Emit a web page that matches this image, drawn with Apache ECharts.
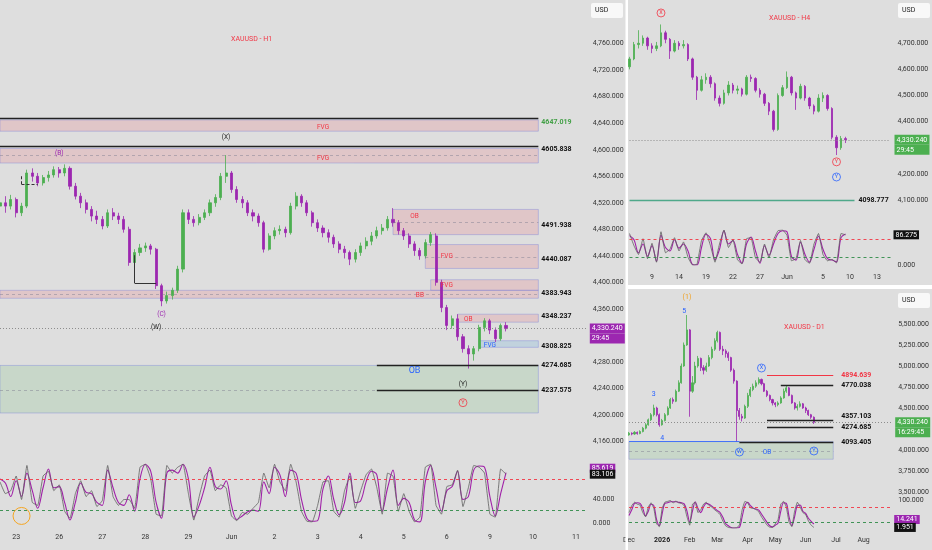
<!DOCTYPE html>
<html><head><meta charset="utf-8">
<script src="https://cdn.jsdelivr.net/npm/echarts@6/dist/echarts.min.js"></script>
<style>html,body{margin:0;padding:0;background:#dedede;}#c{width:932px;height:550px;}</style>
</head><body><div id="c"></div>
<script>
// ---------------- DATA ----------------
const lastPrice = 4330.24;
const h1Countdown = '29:45', h4Countdown = '29:45', d1Countdown = '16:29:45';

// H1 candles [open, close, low, high]
const h1Candles = [
[4515,4520,4508,4528],[4520,4515,4505,4530],[4515,4525,4510,4532],[4525,4505,4498,4528],[4505,4515,4500,4520],
[4515,4565,4512,4570],[4565,4560,4552,4572],[4560,4550,4545,4565],[4550,4558,4546,4562],[4558,4562,4552,4568],
[4562,4570,4558,4575],[4570,4565,4558,4574],[4565,4572,4560,4578],[4572,4545,4540,4575],[4545,4530,4525,4550],
[4530,4520,4512,4535],[4520,4510,4504,4525],[4510,4500,4492,4515],[4500,4495,4488,4508],[4495,4485,4480,4500],
[4485,4505,4482,4510],[4505,4500,4494,4512],[4500,4495,4488,4505],[4495,4480,4475,4500],[4480,4430,4425,4484],
[4430,4445,4426,4450],[4445,4452,4440,4458],[4452,4455,4446,4460],[4455,4450,4442,4458],[4450,4395,4390,4452],
[4395,4372,4364,4398],[4372,4380,4368,4386],[4380,4388,4374,4392],[4388,4420,4384,4425],[4420,4505,4415,4510],
[4505,4495,4488,4510],[4495,4490,4484,4500],[4490,4498,4486,4503],[4498,4505,4494,4510],[4505,4520,4500,4525],
[4520,4528,4514,4533],[4528,4560,4524,4565],[4560,4565,4550,4592],[4565,4540,4535,4568],[4540,4525,4520,4545],
[4525,4520,4512,4530],[4520,4505,4500,4524],[4505,4500,4492,4510],[4500,4490,4484,4504],[4490,4450,4445,4493],
[4450,4470,4448,4474],[4470,4478,4465,4483],[4478,4480,4472,4486],[4480,4475,4468,4484],[4475,4515,4472,4520],
[4515,4530,4510,4536],[4530,4520,4514,4533],[4520,4505,4500,4524],[4505,4490,4484,4508],[4490,4482,4476,4495],
[4482,4475,4468,4486],[4475,4468,4460,4480],[4468,4458,4452,4472],[4458,4450,4444,4462],[4450,4445,4436,4455],
[4445,4435,4426,4448],[4435,4445,4430,4450],[4445,4455,4440,4460],[4455,4462,4450,4468],[4462,4470,4456,4476],
[4470,4478,4466,4484],[4478,4482,4472,4488],[4482,4495,4478,4500],[4495,4490,4484,4512],[4490,4478,4472,4494],
[4478,4470,4464,4482],[4470,4458,4452,4474],[4458,4448,4440,4462],[4448,4440,4434,4452],[4440,4460,4436,4465],
[4460,4472,4455,4476],[4470,4400,4395,4474],[4400,4362,4355,4404],[4362,4335,4328,4366],[4335,4345,4330,4350],
[4345,4318,4312,4352],[4318,4300,4294,4322],[4300,4292,4270,4305],[4292,4300,4282,4304],[4300,4332,4296,4336],
[4332,4342,4326,4346],[4342,4328,4322,4345],[4328,4315,4310,4332],[4315,4335,4312,4338],[4335,4330.24,4326,4340]
];
const h1OscD = [75,68,45,72,45,85,55,25,60,92,60,62,35,5,35,68,52,50,35,30,90,60,35,30,48,20,75,100,88,35,8,85,90,85,100,75,10,30,60,95,62,58,72,30,6,12,19,22,20,70,50,95,82,45,90,85,40,8,3,4,58,80,40,14,35,85,35,38,70,88,82,20,60,90,30,42,35,5,2,70,98,60,20,55,62,88,40,45,90,97,95,45,12,50,85.619];
const h1OscK = [70,50,55,80,40,98,35,30,80,88,55,65,20,8,50,72,45,55,28,38,98,45,30,40,40,25,95,100,75,15,12,98,85,95,100,50,5,45,80,90,55,65,60,12,4,18,15,25,35,85,60,100,70,55,100,70,20,3,2,30,70,72,20,10,55,80,25,55,82,92,60,15,85,80,20,50,20,2,10,95,100,30,15,62,65,90,28,60,98,95,85,15,10,92,83.106];

// H4 candles
const h4Candles = [
[4610,4640,4600,4648],[4640,4695,4635,4705],[4695,4700,4680,4750],[4700,4720,4690,4730],[4720,4690,4675,4725],
[4690,4680,4662,4700],[4680,4690,4670,4705],[4690,4740,4685,4772],[4740,4715,4700,4748],[4715,4670,4640,4720],
[4670,4700,4665,4712],[4700,4690,4675,4708],[4690,4695,4680,4712],[4695,4640,4632,4700],[4640,4570,4560,4645],
[4570,4520,4483,4575],[4520,4560,4515,4575],[4560,4570,4545,4585],[4570,4545,4530,4578],[4545,4490,4480,4550],
[4490,4470,4458,4500],[4470,4510,4465,4522],[4510,4540,4500,4555],[4540,4520,4508,4548],[4520,4525,4505,4538],
[4525,4505,4496,4530],[4505,4570,4500,4578],[4570,4565,4552,4580],[4565,4520,4512,4570],[4520,4505,4492,4528],
[4505,4470,4460,4510],[4470,4440,4425,4475],[4440,4370,4362,4445],[4370,4500,4365,4508],[4500,4530,4495,4540],
[4530,4570,4525,4592],[4570,4510,4500,4575],[4510,4490,4445,4515],[4490,4535,4485,4545],[4535,4490,4480,4540],
[4490,4460,4448,4495],[4460,4440,4428,4466],[4440,4490,4435,4505],[4490,4500,4475,4512],[4500,4450,4442,4505],
[4450,4340,4332,4455],[4340,4300,4272,4348],[4300,4335,4292,4345],[4335,4330.24,4318,4342]
];
const h4OscD = [84,72,35,60,25,55,10,85,50,40,72,48,60,40,2,0,50,88,75,15,45,98,60,70,30,5,60,80,40,5,55,28,60,90,98,95,24,14,65,30,8,45,82,45,18,14,9,78,88.4];
const h4OscK = [90,55,30,75,18,62,8,95,35,45,78,40,66,22,0,2,70,92,55,8,60,100,50,72,15,3,75,78,20,8,60,20,72,98,100,85,12,18,70,15,5,60,90,30,12,16,6,90,86.275];

// D1 candles (two sessions per bar)
const d1Candles = [
[4180,4200,4170,4215],[4200,4190,4175,4210],[4190,4210,4180,4225],[4210,4195,4182,4220],[4195,4220,4188,4235],
[4220,4260,4210,4275],[4260,4300,4245,4320],[4300,4360,4290,4375],[4360,4420,4345,4440],[4420,4500,4400,4540],
[4500,4420,4400,4515],[4420,4300,4277,4435],[4300,4350,4290,4370],[4350,4420,4340,4440],[4420,4500,4410,4520],
[4500,4600,4490,4620],[4600,4580,4550,4625],[4580,4700,4570,4720],[4700,4800,4690,4830],[4800,5000,4790,5030],
[5000,5250,4990,5280],[5250,5430,5240,5607],[5430,4700,4396,5440],[4700,4800,4680,4880],[4800,5000,4780,5050],
[5000,5090,4980,5120],[5090,4980,4940,5100],[4980,4950,4900,5010],[4950,5000,4930,5040],[5000,5100,4990,5130],
[5100,5200,5080,5230],[5200,5300,5180,5330],[5300,5400,5280,5420],[5400,5200,5180,5410],[5200,5180,5130,5240],
[5180,5150,5100,5200],[5150,5100,5060,5170],[5100,4950,4930,5110],[4950,4820,4790,4970],[4820,4470,4099,4830],
[4470,4400,4360,4500],[4400,4380,4340,4430],[4380,4520,4370,4540],[4520,4650,4500,4680],[4650,4720,4630,4750],
[4720,4760,4700,4790],[4760,4800,4740,4830],[4800,4840,4780,4865],[4840,4790,4770,4850],[4790,4700,4690,4800],
[4700,4650,4630,4715],[4650,4600,4580,4660],[4600,4560,4530,4610],[4560,4540,4510,4570],[4540,4560,4520,4580],
[4560,4620,4550,4640],[4620,4700,4610,4730],[4700,4740,4680,4765],[4740,4650,4640,4750],[4650,4560,4550,4660],
[4560,4500,4480,4570],[4500,4520,4470,4545],[4520,4550,4505,4580],[4550,4500,4490,4560],[4500,4470,4440,4515],
[4470,4420,4405,4480],[4420,4390,4370,4430],[4390,4330.24,4310,4400]
];
const d1OscD = [45,65,88,90,88,70,43,60,85,80,30,8,50,88,90,94,94,94,92,90,86,60,22,60,94,70,55,75,88,85,78,70,62,55,38,16,8,2,0,0,2,40,80,92,80,71,68,64,50,35,20,8,4,10,18,60,90,88,40,8,40,80,82,60,52,35,24,14.241];
const d1OscK = [55,80,92,85,82,55,40,75,90,70,15,5,70,92,95,98,90,96,90,88,80,40,10,85,92,55,65,85,92,80,75,65,58,48,25,8,2,0,0,1,10,65,95,90,72,70,66,58,40,25,10,3,2,15,30,85,95,75,20,5,60,92,75,55,48,25,10,1.951];

// Time-axis tick labels [slot, text]
const h1Ticks = [[3,'23'],[11,'26'],[19,'27'],[27,'28'],[35,'29'],[43,'Jun'],[51,'2'],[59,'3'],[67,'4'],[75,'5'],[83,'6'],[91,'9'],[99,'10'],[107,'11']];
const h4Ticks = [[5,'9'],[11,'14'],[17,'19'],[23,'22'],[29,'27'],[35,'Jun'],[43,'5'],[49,'10'],[55,'13']];
const d1Ticks = [[0,'Dec'],[12,'2026'],[22,'Feb'],[32,'Mar'],[43,'Apr'],[53,'May'],[64,'Jun'],[75,'Jul'],[85,'Aug']];
const slotCount = {h1: 110, h4: 59, d1: 96};

// Zones [fromSlot, toSlot, low, high, kind]
const h1Zones = [
[0,100,4628,4645,'bear'],[0,100,4580,4602,'bear'],[73,100,4472,4510,'bear'],[79,100,4421,4457,'bear'],
[80,100,4388,4404,'bear'],[0,100,4376,4388,'bear'],[85,100,4340,4352,'bear'],[89,100,4302,4312,'fvgBull'],
[0,100,4203,4274.685,'bull']
];
// Levels [fromSlot, toSlot, price, kind]
const h1Levels = [
[0,100,4647.019,'lineGreenText'],[0,100,4605.838,'line'],[73,100,4491.938,'text'],[79,100,4440.087,'text'],
[0,100,4383.943,'text'],[85,100,4348.237,'text'],[89,100,4308.825,'text'],[70,100,4274.685,'line'],[70,100,4237.575,'line']
];
const h1MidLines = [[0,100,4592],[73,100,4490],[79,100,4438],[0,100,4382],[0,100,4237.575]];
const h1Drawings = [[[25,4399],[29,4399],'solid'],[[25,4399],[25,4441],'solid'],[[4,4548],[7,4548],'dashed'],[[4,4548],[4,4562],'dashed']];
const h1Notes = [
[60,4634,'FVG','zoneRed'],[60,4587,'FVG','zoneRed'],[77,4499,'OB','zoneRed'],[83,4439,'FVG','zoneRed'],
[83,4395,'FVG','zoneRed'],[78,4380.5,'BB','zoneRed'],[87,4344,'OB','zoneRed'],[91,4305.5,'FVG','zoneBlue'],
[77,4266,'OB','obBlue'],[86,4246.7,'(Y)','waveK'],[86,4218.5,'Y','circR'],[42,4619,'(X)','waveK'],
[11,4594.7,'(B)','waveP'],[30,4351,'(C)','waveP'],[29,4332,'(W)','waveK']
];
const h1OscNotes = [[4,12,'','ringO']];

const h4Levels = [[0,50,4098.777,'lineTeal']];
const h4Notes = [[7,4816,'X','circR'],[46,4246,'Y','circR'],[46,4188,'Y','circB']];

const d1Zones = [[0,74,3890,4100,'bull']];
const d1Levels = [
[50,74,4894.639,'lineRed'],[55,74,4770.038,'line'],[50,74,4357.103,'line'],[50,74,4274.685,'line'],
[40,74,4093.405,'line'],[0,40,4107,'lineBlueOnly']
];
const d1MidLines = [[0,74,3990]];
const d1Notes = [
[21,5821,'(1)','waveO'],[20,5655,'5','waveB'],[9,4667,'3','waveB'],[12,4143,'4','waveB'],
[48,4976,'X','circB'],[40,3976,'W','circB'],[50,3976,'OB','zoneBlue'],[67,3988,'Y','circB']
];
const oscBands = [75, 22];

// ---------------- STYLE / BUILD ----------------
const FONT = 'Roboto, "DejaVu Sans", sans-serif';
const UP = '#4caf50', DOWN = '#9c27b0', RED = '#f23645', BLUE = '#2962ff';
const fmt3 = v => Number(v).toLocaleString('en-US', {minimumFractionDigits: 3, maximumFractionDigits: 3});

const zoneStyle = {
  bear: {color: 'rgba(242,54,69,0.14)', borderColor: 'rgba(110,120,220,0.35)', borderWidth: 1},
  bull: {color: 'rgba(76,175,80,0.15)', borderColor: 'rgba(110,120,220,0.35)', borderWidth: 1},
  fvgBull: {color: 'rgba(90,170,220,0.22)', borderColor: 'rgba(110,120,220,0.35)', borderWidth: 1}
};
const noteStyle = {
  zoneRed: {color: RED, fontSize: 6.5},
  zoneBlue: {color: BLUE, fontSize: 6.5},
  obBlue: {color: BLUE, fontSize: 9},
  waveK: {color: '#222', fontSize: 6.5},
  waveP: {color: '#9c27b0', fontSize: 6.5},
  waveB: {color: BLUE, fontSize: 7},
  waveO: {color: '#f0a020', fontSize: 7}
};
const levelLabelAlign = {4647.019: 'top', 4605.838: 'top', 4491.938: 'top', 4440.087: 'top', 4308.825: 'top',
  4357.103: 'bottom', 4274.685: 'middle'};

function cats(n) { return Array.from({length: n}, (_, i) => String(i)); }

function notePoints(notes) {
  return notes.map(([s, p, t, kind]) => {
    if (kind === 'circR' || kind === 'circB') {
      const c = kind === 'circR' ? RED : BLUE;
      return {coord: [s, p], symbol: 'circle', symbolSize: 8,
        itemStyle: {color: 'rgba(0,0,0,0)', borderColor: c, borderWidth: 0.8},
        label: {show: true, position: 'inside', formatter: t, color: c, fontSize: 5.5, fontFamily: FONT}};
    }
    if (kind === 'ringO') {
      return {coord: [s, p], symbol: 'circle', symbolSize: 17,
        itemStyle: {color: 'rgba(0,0,0,0)', borderColor: '#f5a623', borderWidth: 1}, label: {show: false}};
    }
    const st = noteStyle[kind];
    return {coord: [s, p], symbol: 'circle', symbolSize: 1, itemStyle: {color: 'rgba(0,0,0,0)'},
      label: {show: true, position: 'inside', formatter: t, color: st.color, fontSize: st.fontSize, fontFamily: FONT}};
  });
}

function levelLines(levels, dist) {
  return levels.map(([a, b, p, kind]) => {
    let lineColor = '#222', lw = 1.3, txtColor = '#111', showLabel = true;
    if (kind === 'text') lineColor = 'rgba(0,0,0,0)';
    if (kind === 'lineGreenText') txtColor = '#43a047';
    if (kind === 'lineTeal') { lineColor = '#4fa88a'; lw = 1.3; }
    if (kind === 'lineRed') { lineColor = RED; txtColor = RED; lw = 1; }
    if (kind === 'lineBlueOnly') { lineColor = BLUE; lw = 0.8; showLabel = false; }
    return [{coord: [a, p], lineStyle: {color: lineColor, width: lw, type: 'solid'},
      label: {show: showLabel, position: 'end', distance: dist, formatter: p.toFixed(3), color: txtColor,
        fontSize: 7, fontWeight: 'bold', fontFamily: FONT, verticalAlign: levelLabelAlign[p] || 'middle'}},
      {coord: [b, p]}];
  });
}

function midLines(mids) {
  return mids.map(([a, b, p]) => [{coord: [a, p], lineStyle: {color: 'rgba(120,120,140,0.55)', width: 0.8, type: [3, 3]}, label: {show: false}}, {coord: [b, p]}]);
}

function drawLines(dr) {
  return dr.map(([f, t, k]) => [{coord: f, lineStyle: {color: '#333', width: 1, type: k === 'dashed' ? [3, 2] : 'solid'}, label: {show: false}}, {coord: t}]);
}

function priceTag(color, countdown, dist) {
  return {yAxis: lastPrice, lineStyle: {color: '#8d8d8d', width: 1, type: [1, 2]},
    label: {show: true, position: 'end', distance: dist,
      formatter: '{s| }\n{a|' + fmt3(lastPrice) + '}\n{b|' + countdown + '}',
      rich: {
        s: {height: 10, lineHeight: 10, fontSize: 1},
        a: {backgroundColor: color, color: '#fff', width: 31, height: 10, lineHeight: 10, padding: [0, 2], fontSize: 7, fontFamily: FONT},
        b: {backgroundColor: color, color: '#fff', width: 31, height: 10, lineHeight: 10, padding: [0, 2], fontSize: 7, fontFamily: FONT}
      }}};
}

function areaData(zones) {
  return zones.map(([a, b, lo, hi, kind]) => [{xAxis: a, yAxis: hi, itemStyle: zoneStyle[kind]}, {xAxis: b, yAxis: lo}]);
}

function bandLines() {
  return [
    {yAxis: oscBands[0], lineStyle: {color: RED, width: 0.9, type: [3, 3]}, label: {show: false}},
    {yAxis: oscBands[1], lineStyle: {color: '#2e8b47', width: 0.9, type: [3, 3]}, label: {show: false}}
  ];
}
function valueTag(v, bg, va) {
  return {yAxis: v, lineStyle: {color: 'rgba(0,0,0,0)'},
    label: {show: true, position: 'end', distance: 3, formatter: fmt3(v), backgroundColor: bg, color: '#fff',
      padding: [1, 2, 1, 2], fontSize: 7, fontFamily: FONT, verticalAlign: va}};
}

function candleSeries(idx, data, bw) {
  return {type: 'candlestick', xAxisIndex: idx, yAxisIndex: idx, data: data, barWidth: bw, silent: true,
    itemStyle: {color: UP, color0: DOWN, borderColor: UP, borderColor0: DOWN, borderWidth: 0.8}};
}
function oscSeries(idx, data, color, width, smooth, extra) {
  return Object.assign({type: 'line', xAxisIndex: idx, yAxisIndex: idx, data: data, symbol: 'none', silent: true,
    smooth: smooth, lineStyle: {color: color, width: width}, z: 3}, extra || {});
}

function xAxis(idx, n, ticks, show, margin) {
  const m = new Map(ticks);
  return {gridIndex: idx, type: 'category', data: cats(n), boundaryGap: false, show: show,
    axisLine: {show: false}, axisTick: {show: false}, splitLine: {show: false},
    axisLabel: {show: show, margin: margin, fontSize: 7, color: '#333', fontFamily: FONT,
      interval: (i) => m.has(i),
      formatter: (v, i) => { const t = m.get(i); if (!t) return ''; return /^\d{4}$/.test(t) ? '{b|' + t + '}' : t; },
      rich: {b: {fontWeight: 'bold', fontSize: 7, color: '#222', fontFamily: FONT}}}};
}
function yAxis(idx, min, max, interval, margin, showFn) {
  return {gridIndex: idx, type: 'value', position: 'right', min: min, max: max, interval: interval,
    axisLine: {show: false}, axisTick: {show: false}, splitLine: {show: false},
    axisLabel: {margin: margin, fontSize: 7, color: '#333', fontFamily: FONT,
      formatter: v => showFn(v) ? fmt3(v) : ''}};
}

const option = {
  backgroundColor: '#dedede',
  animation: false,
  title: [
    {text: 'XAUUSD - H1', left: 231, top: 36, padding: 0, textStyle: {color: RED, fontSize: 7, fontWeight: 'normal', fontFamily: FONT}},
    {text: 'XAUUSD - H4', left: 769, top: 15, padding: 0, textStyle: {color: RED, fontSize: 7, fontWeight: 'normal', fontFamily: FONT}},
    {text: 'XAUUSD - D1', left: 784, top: 324, padding: 0, textStyle: {color: RED, fontSize: 7, fontWeight: 'normal', fontFamily: FONT}}
  ],
  grid: [
    {left: -2.2, top: 0, width: 589, height: 468},
    {left: -2.2, top: 458.4, width: 589, height: 64.6},
    {left: 629.5, top: 0, width: 261, height: 226.1},
    {left: 629.5, top: 230, width: 261, height: 35},
    {left: 629, top: 290, width: 262.2, height: 223},
    {left: 629, top: 500, width: 262.2, height: 28}
  ],
  xAxis: [
    xAxis(0, slotCount.h1, h1Ticks, false, 0),
    xAxis(1, slotCount.h1, h1Ticks, true, 11),
    xAxis(2, slotCount.h4, h4Ticks, false, 0),
    xAxis(3, slotCount.h4, h4Ticks, true, 9),
    xAxis(4, slotCount.d1, d1Ticks, false, 0),
    xAxis(5, slotCount.d1, d1Ticks, true, 9)
  ],
  yAxis: [
    yAxis(0, 4120, 4825.9, 40, 6, v => v % 40 === 0 && v >= 4160 && v <= 4760 && v !== 4320),
    yAxis(1, 0, 110, 40, 6, v => v === 0 || v === 40),
    yAxis(2, 4000, 4865.6, 100, 7, v => v % 100 === 0 && v >= 4100 && v <= 4700 && v !== 4300),
    yAxis(3, 0, 100, 50, 7, v => v === 0),
    yAxis(4, 3250, 5904.8, 250, 7, v => v % 250 === 0 && v >= 3500 && v <= 5500 && v !== 4250),
    yAxis(5, 0, 100, 50, 7, v => v === 100)
  ],
  series: [
    Object.assign(candleSeries(0, h1Candles, 2.6), {
      markArea: {silent: true, data: areaData(h1Zones)},
      markLine: {silent: true, symbol: ['none', 'none'], animation: false,
        data: [].concat(midLines(h1MidLines), drawLines(h1Drawings), levelLines(h1Levels, 3), [priceTag('#9c27b0', h1Countdown, 3)])},
      markPoint: {silent: true, animation: false, data: notePoints(h1Notes)}
    }),
    oscSeries(1, h1OscD, '#a020a8', 1.1, 0.35, {
      markLine: {silent: true, symbol: ['none', 'none'], animation: false,
        data: bandLines().concat([valueTag(h1OscD[h1OscD.length - 1], '#9c27b0', 'bottom')])},
      markPoint: {silent: true, animation: false, data: notePoints(h1OscNotes)}
    }),
    oscSeries(1, h1OscK, '#606060', 0.8, 0.1, {
      markLine: {silent: true, symbol: ['none', 'none'], animation: false,
        data: [valueTag(h1OscK[h1OscK.length - 1], '#111', 'middle')]}
    }),
    Object.assign(candleSeries(2, h4Candles, 2.2), {
      markLine: {silent: true, symbol: ['none', 'none'], animation: false,
        data: [].concat(levelLines(h4Levels, 4), [priceTag('#4caf50', h4Countdown, 4)])},
      markPoint: {silent: true, animation: false, data: notePoints(h4Notes)}
    }),
    oscSeries(3, h4OscD, '#a020a8', 1.1, 0.35, {
      markLine: {silent: true, symbol: ['none', 'none'], animation: false, data: bandLines()}
    }),
    oscSeries(3, h4OscK, '#606060', 0.8, 0.1, {
      markLine: {silent: true, symbol: ['none', 'none'], animation: false,
        data: [valueTag(h4OscK[h4OscK.length - 1], '#111', 'middle')]}
    }),
    Object.assign(candleSeries(4, d1Candles, 1.6), {
      markArea: {silent: true, data: areaData(d1Zones)},
      markLine: {silent: true, symbol: ['none', 'none'], animation: false,
        data: [].concat(midLines(d1MidLines), levelLines(d1Levels, 8), [priceTag('#4caf50', d1Countdown, 4)])},
      markPoint: {silent: true, animation: false, data: notePoints(d1Notes)}
    }),
    oscSeries(5, d1OscD, '#a020a8', 1.1, 0.35, {
      markLine: {silent: true, symbol: ['none', 'none'], animation: false,
        data: bandLines().concat([valueTag(d1OscD[d1OscD.length - 1], '#9c27b0', 'bottom')])}
    }),
    oscSeries(5, d1OscK, '#606060', 0.8, 0.1, {
      markLine: {silent: true, symbol: ['none', 'none'], animation: false,
        data: [valueTag(d1OscK[d1OscK.length - 1], '#111', 'middle')]}
    })
  ],
  graphic: [
    {type: 'rect', z: 100, shape: {x: 625.5, y: 0, width: 2.5, height: 550}, style: {fill: '#ffffff'}},
    {type: 'rect', z: 100, shape: {x: 628, y: 285, width: 304, height: 4}, style: {fill: '#ffffff'}},
    {type: 'rect', z: 100, shape: {x: 591, y: 3, width: 32, height: 15, r: 2}, style: {fill: '#f8f8f8'}},
    {type: 'text', z: 101, x: 595, y: 10.5, style: {text: 'USD', fill: '#222', fontSize: 7, fontFamily: FONT, verticalAlign: 'middle'}},
    {type: 'rect', z: 100, shape: {x: 898, y: 3, width: 32, height: 15, r: 2}, style: {fill: '#f8f8f8'}},
    {type: 'text', z: 101, x: 902, y: 10.5, style: {text: 'USD', fill: '#222', fontSize: 7, fontFamily: FONT, verticalAlign: 'middle'}},
    {type: 'rect', z: 100, shape: {x: 898, y: 293, width: 32, height: 15, r: 2}, style: {fill: '#f8f8f8'}},
    {type: 'text', z: 101, x: 902, y: 300.5, style: {text: 'USD', fill: '#222', fontSize: 7, fontFamily: FONT, verticalAlign: 'middle'}}
  ]
};

const chart = echarts.init(document.getElementById('c'), null, {renderer: 'canvas'});
chart.setOption(option);
</script></body></html>
